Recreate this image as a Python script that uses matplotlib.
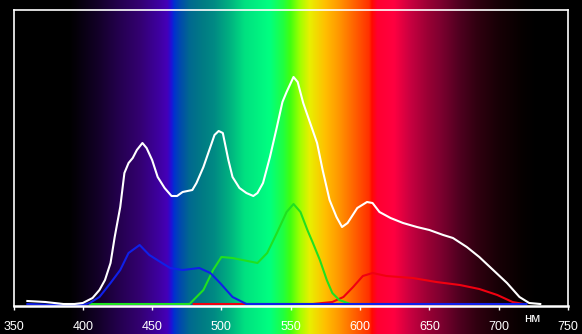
import numpy as np
import matplotlib
matplotlib.use("Agg")
import matplotlib.pyplot as plt
from matplotlib.colors import to_rgb

# ---- данные (высота кривых в условных единицах) ----
white_nm = [360, 373, 386, 394, 400, 407, 412, 416, 420, 423, 427, 430, 433, 436, 439, 443,
            446, 450, 454, 459, 464, 468, 472, 479, 482, 487, 492, 495, 498, 501, 505,
            508, 513, 518, 523, 526, 530, 535, 540, 544, 547, 552, 555, 559, 564, 569,
            573, 578, 583, 587, 591, 598, 605, 609, 614, 622, 631, 641, 650, 660, 667,
            677, 686, 696, 706, 715, 722, 730]
white_val = [6, 5, 3, 3, 4, 9, 17, 27, 44, 70, 100, 134, 144, 149, 157, 164,
             159, 147, 130, 119, 111, 111, 115, 117, 124, 140, 160, 172, 176, 174, 147,
             130, 119, 114, 111, 114, 124, 150, 180, 205, 215, 230, 225, 204, 184, 164,
             137, 107, 90, 80, 84, 99, 105, 104, 95, 89, 84, 80, 77, 72, 69,
             60, 50, 37, 24, 10, 4, 3]

blue_nm = [360, 380, 400, 405, 412, 420, 427, 433, 441, 448, 456, 463, 472, 484, 492, 499,
           508, 518, 600, 720]
blue_val = [3, 2, 2, 4, 10, 24, 37, 54, 62, 52, 45, 39, 37, 39, 34, 24,
            10, 3, 3, 3]

green_nm = [405, 477, 487, 494, 500, 508, 526, 533, 540, 547, 552, 557, 562, 566, 571,
            576, 580, 585, 593, 620]
green_val = [3, 3, 17, 37, 50, 49, 44, 54, 74, 95, 103, 95, 77, 64, 47,
             27, 14, 7, 3, 3]

red_nm = [480, 566, 580, 588, 595, 602, 609, 619, 638, 655, 672, 686, 699, 710, 718]
red_val = [3, 3, 5, 10, 20, 31, 34, 31, 29, 25, 22, 18, 12, 5, 3]

x_ticks = [350, 400, 450, 500, 550, 600, 650, 700, 750]

# цвета фона-спектра (нм -> цвет)
spec_nm = [380, 390, 396, 412, 427, 441, 455, 461, 464, 466, 470, 477, 487, 495, 506,
           517, 535, 545, 550, 557, 564, 575, 585, 598, 607, 609, 613, 625, 637, 650,
           658, 672, 685, 700, 718, 728]
spec_col = ["#000000", "#000000", "#05000a", "#14002a", "#250050", "#330070", "#3e00a0",
            "#4500b8", "#2010d8", "#0030d0", "#0048b0", "#006890", "#007c84", "#008a84",
            "#00b080", "#00e080", "#00ff80", "#20ff40", "#40ff10", "#a0ff00", "#e8f000",
            "#ffc000", "#ff9800", "#ff5a00", "#ff3000", "#ff0a00", "#ff0030", "#ff0040",
            "#c80040", "#980034", "#800030", "#500020", "#300010", "#180006", "#060000",
            "#000000"]

W, H = 582, 334
fig = plt.figure(figsize=(W / 100, H / 100), dpi=100, facecolor="black")

# фон со спектром на всю картинку
bg = fig.add_axes([0, 0, 1, 1])
nm_left = 350 - 13.5 * 50 / 69.2
nm_right = 350 + (W - 13.5) * 50 / 69.2
grid = np.linspace(nm_left, nm_right, 1200)
rgb = np.array([to_rgb(c) for c in spec_col])
img = np.stack([np.interp(grid, spec_nm, rgb[:, k], left=0, right=0) for k in range(3)], axis=-1)
bg.imshow(img[np.newaxis, :, :], extent=(nm_left, nm_right, 0, 1), aspect="auto")
bg.set_xlim(nm_left, nm_right)
bg.set_ylim(0, 1)
bg.axis("off")

# основная область графика
ax = fig.add_axes([13.5 / W, (H - 306) / H, (568 - 13.5) / W, 296.5 / H])
ax.patch.set_alpha(0)
ax.plot(red_nm, red_val, color="#f00010", lw=1.5)
ax.plot(green_nm, green_val, color="#20e020", lw=1.5)
ax.plot(blue_nm, blue_val, color="#1020e8", lw=1.5)
ax.plot(white_nm, white_val, color="white", lw=1.5)

ax.set_xlim(350, 750)
ax.set_ylim(1, 297.5)
for s in ax.spines.values():
    s.set_color("white")
    s.set_linewidth(1.2)
ax.spines["bottom"].set_linewidth(1.8)
ax.set_xticks(x_ticks)
ax.set_xticklabels([str(t) for t in x_ticks], family=["Liberation Sans", "DejaVu Sans"],
                   fontsize=9, color="white")
ax.tick_params(axis="x", direction="out", length=3, width=1, color="white", pad=8)
ax.set_yticks([])

ax.annotate("нм", xy=(724, 0), xycoords=("data", "axes fraction"), xytext=(0, -9),
            textcoords="offset points", ha="center", va="center", color="white",
            fontsize=9.5, family=["Liberation Sans", "DejaVu Sans"])

fig.savefig("out.png", dpi=100, facecolor="black")
